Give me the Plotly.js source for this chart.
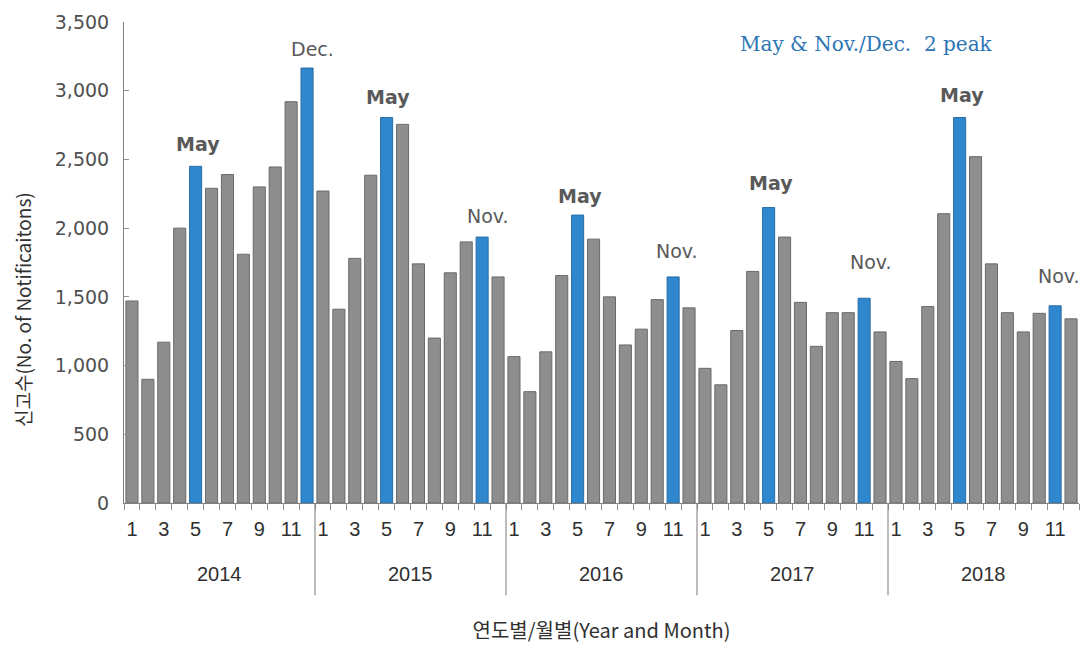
<!DOCTYPE html>
<html>
<head>
<meta charset="utf-8">
<script src="https://cdn.plot.ly/plotly-3.0.1.min.js"></script>
<style>html,body{margin:0;padding:0;background:#fff;}#chart{width:1088px;height:654px;}</style>
</head>
<body>
<div id="chart"></div>
<script>
// ---- data ----
var years = ['2014', '2015', '2016', '2017', '2018'];
var monthTickLabels = ['1', '3', '5', '7', '9', '11'];
var v2014 = [1470, 900, 1170, 2000, 2450, 2290, 2390, 1810, 2300, 2445, 2920, 3165];
var v2015 = [2270, 1410, 1780, 2385, 2805, 2755, 1740, 1200, 1675, 1900, 1935, 1645];
var v2016 = [1065, 810, 1100, 1655, 2095, 1920, 1500, 1150, 1265, 1480, 1645, 1420];
var v2017 = [980, 860, 1255, 1685, 2150, 1935, 1460, 1140, 1385, 1385, 1490, 1245];
var v2018 = [1030, 905, 1430, 2105, 2805, 2520, 1740, 1385, 1245, 1380, 1435, 1340];
// highlighted (peak) months: year, month, label
var peakYears  = ['2014', '2014', '2015', '2015', '2016', '2016', '2017', '2017', '2018', '2018'];
var peakMonths = [5, 12, 5, 11, 5, 11, 5, 11, 5, 11];
var peakLabels = ['May', 'Dec.', 'May', 'Nov.', 'May', 'Nov.', 'May', 'Nov.', 'May', 'Nov.'];
var noteText = 'May &amp; Nov./Dec.  2 peak';
var yTitle = '신고수(No. of Notificaitons)';
var xTitle = '연도별/월별(Year and Month)';

// ---- build ----
var series = [v2014, v2015, v2016, v2017, v2018];
var GRAY = '#8e8e8e', GRAY_LINE = '#6a6a6a', BLUE = '#2f87ce', BLUE_LINE = '#2a6ea8';
var xs = [], ys = [], fills = [], lines = [], hover = [];
years.forEach(function (yr, yi) {
  series[yi].forEach(function (v, mi) {
    var x = yi * 12 + mi;
    var isPeak = false;
    for (var k = 0; k < peakYears.length; k++) {
      if (peakYears[k] === yr && peakMonths[k] === mi + 1) isPeak = true;
    }
    xs.push(x); ys.push(v);
    fills.push(isPeak ? BLUE : GRAY);
    lines.push(isPeak ? BLUE_LINE : GRAY_LINE);
    hover.push(yr + '-' + (mi + 1));
  });
});

var tickvals = [], ticktext = [];
years.forEach(function (yr, yi) {
  monthTickLabels.forEach(function (m) {
    tickvals.push(yi * 12 + (parseInt(m, 10) - 1));
    ticktext.push(m);
  });
});
var boundaries = [];
for (var b = 0; b <= years.length * 12; b++) boundaries.push(b - 0.5);

var shapes = [];
for (var s = 1; s < years.length; s++) {
  shapes.push({type: 'line', xref: 'x', yref: 'paper', x0: s * 12 - 0.5, x1: s * 12 - 0.5,
    y0: 0, y1: -0.192, line: {color: '#7a7a7a', width: 1}});
}

var annotations = [];
years.forEach(function (yr, yi) {
  annotations.push({xref: 'x', yref: 'paper', x: yi * 12 + 5.5, y: -0.148, text: yr,
    showarrow: false, yanchor: 'middle', font: {family: 'Liberation Sans, Arial, sans-serif', size: 20, color: '#303030'}});
});
var peakShift = [9, 6, 8, 8, 6, 13, 12, 23, 10, 17];
var peakDx = [2, 5, 1, 6, 2, 4, 2, 7, 2, 4];
for (var k = 0; k < peakYears.length; k++) {
  var yi = years.indexOf(peakYears[k]);
  var xi = yi * 12 + peakMonths[k] - 1;
  var bold = peakLabels[k] === 'May';
  annotations.push({xref: 'x', yref: 'y', x: xi, y: series[yi][peakMonths[k] - 1],
    text: bold ? '<b>' + peakLabels[k] + '</b>' : peakLabels[k], showarrow: false,
    yanchor: 'bottom', yshift: peakShift[k], xshift: peakDx[k],
    font: {family: 'DejaVu Sans, Verdana, sans-serif', size: 19, color: '#595959'}});
}
annotations.push({xref: 'paper', yref: 'paper', x: (866 - 124) / 955, y: (503 - 44) / 481,
  text: noteText, showarrow: false, xanchor: 'center', yanchor: 'middle',
  font: {family: 'DejaVu Serif, Liberation Serif, serif', size: 20, color: '#2e75b6'}});
annotations.push({xref: 'paper', yref: 'paper', x: (22 - 124) / 955, y: (503 - 310) / 481,
  text: yTitle, showarrow: false, textangle: -90, xanchor: 'center', yanchor: 'middle',
  font: {family: 'Noto Sans CJK KR, Liberation Sans, sans-serif', size: 19, color: '#303030'}});

var trace = {type: 'bar', x: xs, y: ys, customdata: hover, textposition: 'none',
  hovertemplate: '%{customdata}: %{y:,}<extra></extra>',
  marker: {color: fills, line: {color: lines, width: 1}}};

var layout = {
  width: 1088, height: 654,
  margin: {l: 124, r: 9, t: 22, b: 151},
  paper_bgcolor: '#ffffff', plot_bgcolor: '#ffffff',
  bargap: 0.24, showlegend: false, separators: '.,',
  xaxis: {range: [-0.5, 59.5], tickmode: 'array', tickvals: tickvals, ticktext: ticktext,
    ticks: '', showline: true, linecolor: '#808080', linewidth: 1, showgrid: false, zeroline: false,
    ticklabelstandoff: 8, automargin: false,
    minor: {tickmode: 'array', tickvals: boundaries, ticks: 'outside', ticklen: 6, tickcolor: '#909090', tickwidth: 1, showgrid: false},
    tickfont: {family: 'Liberation Sans, Arial, sans-serif', size: 20, color: '#303030'},
    title: {text: xTitle, standoff: 84, font: {family: 'Noto Sans CJK KR, Liberation Sans, sans-serif', size: 20, color: '#303030'}}},
  yaxis: {range: [0, 3500], tick0: 0, dtick: 500, tickformat: ',d', ticks: 'inside', ticklen: 5,
    tickcolor: '#909090', showline: true, linecolor: '#808080', linewidth: 1, showgrid: false, zeroline: false,
    automargin: false, ticklabelstandoff: 10,
    tickfont: {family: 'DejaVu Sans, Verdana, sans-serif', size: 19, color: '#505050'}},
  shapes: shapes, annotations: annotations
};
Plotly.newPlot('chart', [trace], layout, {displayModeBar: false, staticPlot: true});
</script>
</body>
</html>
